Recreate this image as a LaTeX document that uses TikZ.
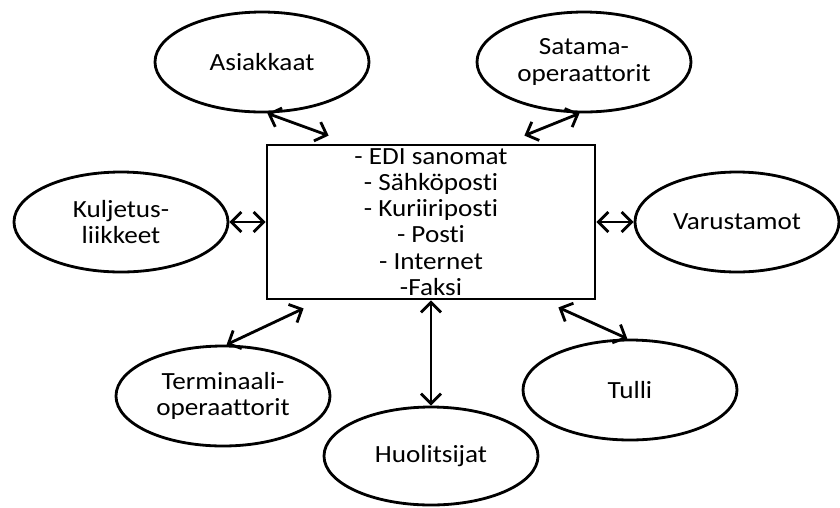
\documentclass[tikz,border=0pt]{standalone}
\usepackage{fontspec}
\setmainfont{Carlito}[Ligatures=NoCommon,FakeStretch=1.1]
\usetikzlibrary{shapes.geometric,arrows.meta}
\begin{document}
\begin{tikzpicture}[font=\fontsize{7bp}{7.45bp}\selectfont,line width=0.8pt,
 hub/.style={draw,rectangle,align=center,minimum width=3.28cm,minimum height=1.54cm,inner sep=0pt},
 party/.style={draw,ellipse,align=center,minimum width=2.14cm,minimum height=1cm,inner sep=0pt},
 link/.style={{Straight Barb[length=1mm,width=2mm]}-{Straight Barb[length=1mm,width=2mm]}}]
\useasboundingbox (0,0) rectangle (8.4,5.07);
\node[hub] (box) at (4.31,2.85) {- EDI sanomat\\- Sähköposti\\- Kuriiriposti\\- Posti\\- Internet\\-Faksi};
\node[party] (asiakkaat) at (2.62,4.45) {Asiakkaat};
\node[party] (satama) at (5.84,4.45) {Satama-\\operaattorit};
\node[party] (kuljetus) at (1.21,2.85) {Kuljetus-\\liikkeet};
\node[party,minimum width=2.04cm] (varustamot) at (7.37,2.85) {Varustamot};
\node[party] (terminaali) at (2.23,1.11) {Terminaali-\\operaattorit};
\node[party,minimum height=0.98cm] (huolitsijat) at (4.31,0.51) {Huolitsijat};
\node[party] (tulli) at (6.30,1.17) {Tulli};
\draw[link] (asiakkaat.-84)--([shift={(0.63,0.08)}]box.north west);\draw[link] (satama.-95)--([shift={(-0.72,0.08)}]box.north east);
\draw[link] (kuljetus.east)--(box.west);\draw[link] (box.east)--(varustamot.west);
\draw[link] (terminaali.86)--([shift={(0.38,-0.08)}]box.south west);\draw[link] (box.south)--(huolitsijat.north);
\draw[link] ([shift={(-0.38,-0.07)}]box.south east)--(tulli.93);
\end{tikzpicture}
\end{document}
